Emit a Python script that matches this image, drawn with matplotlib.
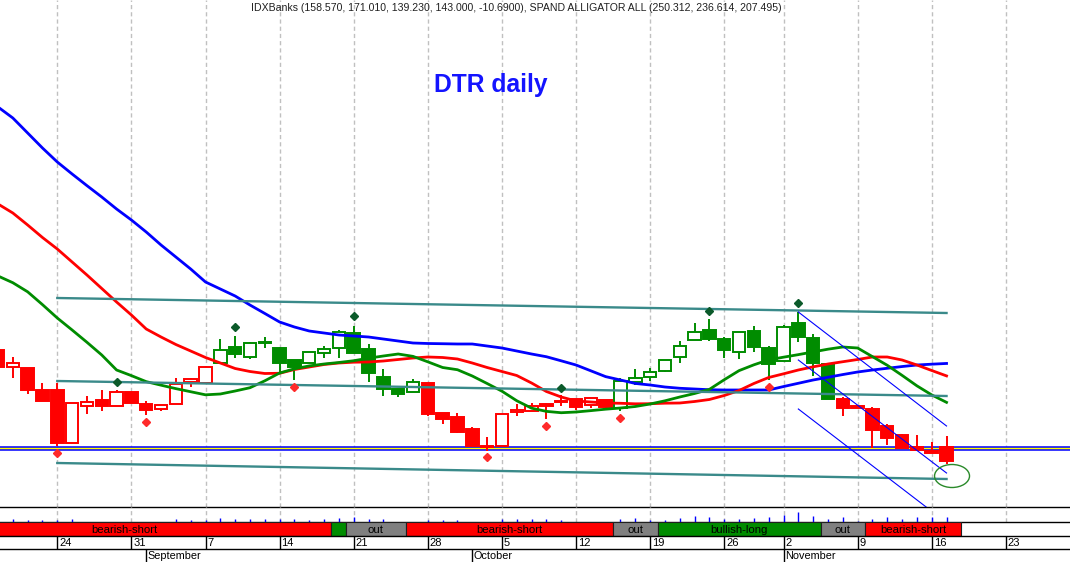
import matplotlib
matplotlib.use("Agg")
import matplotlib.pyplot as plt
from matplotlib.patches import Rectangle, Ellipse
import numpy as np

plt.rcParams['font.family'] = ['Liberation Sans', 'DejaVu Sans']

# ---------------- data ----------------
opens = [265.1, 246.4, 245.3, 221.1, 221.1, 162.8, 203.5, 210.1, 203.5, 218.9,
         205.7, 200.2, 205.7, 229.9, 228.8, 250.8, 268.4, 257.4, 272.8, 267.3,
         254.1, 250.8, 261.8, 267.3, 283.8, 266.2, 235.4, 222.2, 218.9, 228.8,
         195.8, 191.4, 178.2, 159.5, 159.5, 196.9, 198.0, 205.7, 208.45, 211.2,
         204.6, 210.1, 201.3, 229.9, 235.4, 242.0, 257.4, 276.1, 287.1, 277.2,
         262.9, 286.0, 267.3, 253.0, 294.8, 278.3, 249.7, 211.2, 203.5, 200.2,
         181.5, 171.6, 158.4, 154.0, 158.57]
highs = [265.1, 257.4, 245.3, 228.8, 228.8, 206.8, 214.5, 221.1, 221.1, 218.9,
         209.0, 204.6, 234.3, 234.3, 247.5, 277.2, 280.5, 273.9, 279.4, 268.4,
         254.1, 262.9, 269.5, 287.1, 291.5, 271.7, 244.2, 222.2, 233.2, 228.8,
         195.8, 195.8, 180.4, 169.4, 194.7, 205.7, 206.8, 206.8, 215.6, 211.2,
         212.3, 210.1, 234.3, 244.2, 245.3, 254.1, 275.0, 294.8, 299.2, 279.4,
         284.9, 291.5, 269.5, 292.6, 306.9, 282.7, 249.7, 213.4, 203.5, 202.4,
         183.7, 172.7, 171.6, 163.9, 171.01]
lows = [246.4, 234.3, 216.7, 209.0, 159.5, 162.8, 194.7, 198.0, 203.5, 206.8,
        193.6, 198.0, 205.7, 224.4, 228.8, 250.8, 256.3, 255.2, 267.3, 239.8,
        232.1, 250.8, 256.3, 256.3, 261.8, 229.9, 214.5, 213.4, 218.9, 192.5,
        183.7, 173.8, 159.5, 154.0, 159.5, 192.5, 198.0, 189.2, 203.5, 199.1,
        201.3, 200.2, 198.0, 226.6, 231.0, 240.9, 250.8, 276.1, 275.0, 256.3,
        255.2, 262.9, 232.1, 253.0, 273.9, 236.5, 211.2, 192.5, 201.3, 157.3,
        160.6, 157.3, 155.1, 151.8, 139.23]
closes = [246.4, 250.8, 221.1, 209.0, 162.8, 206.8, 207.9, 203.5, 218.9, 206.8,
          199.1, 204.6, 227.7, 233.2, 246.4, 265.1, 260.7, 272.8, 273.9, 250.8,
          246.4, 262.9, 266.2, 284.9, 261.8, 239.8, 222.2, 216.7, 229.9, 194.7,
          189.2, 174.9, 159.5, 158.4, 194.7, 199.1, 203.5, 203.5, 209.0, 202.4,
          212.3, 202.4, 231.0, 234.3, 240.9, 254.1, 269.5, 284.9, 277.2, 265.1,
          284.9, 268.4, 249.7, 290.4, 279.4, 250.8, 211.2, 201.3, 201.3, 177.1,
          168.3, 157.3, 155.1, 151.8, 143.0]
candle_colors = "r" * 15 + "g" * 14 + "r" * 13 + "g" * 15 + "r" * 8

jaw = [532.4, 520.3, 503.8, 487.3, 471.9, 458.7, 445.9, 433.4, 420.2, 408.1,
       394.9, 380.6, 367.4, 354.2, 339.9, 332.2, 324.5, 314.6, 305.3, 295.9,
       290.4, 286.0, 283.8, 281.6, 280.5, 279.4, 277.2, 275.0, 272.8, 272.25,
       272.0, 271.7, 271.7, 269.5, 267.3, 264.0, 260.7, 257.7, 253.2, 248.6,
       242.2, 235.8, 232.1, 228.3, 226.6, 224.4, 223.0, 222.2, 221.4, 221.1,
       221.1, 221.1, 221.1, 224.9, 228.5, 232.1, 235.1, 238.1, 240.9, 243.1,
       245.0, 246.9, 248.6, 249.5, 250.3]
teeth = [425.7, 415.8, 402.6, 388.85, 376.2, 361.9, 347.6, 332.75, 317.9, 303.6,
         288.2, 279.4, 271.15, 264.0, 256.85, 250.8, 244.75, 241.45, 239.25, 239.5,
         243.65, 246.4, 249.15, 250.8, 251.7, 251.9, 253.0, 254.65, 256.3, 257.4,
         256.85, 255.2, 250.8, 245.85, 241.45, 237.05, 228.8, 219.45, 213.4, 209.0,
         207.9, 206.8, 206.5, 205.9, 206.0, 206.6, 206.8, 208.45, 210.65, 215.05,
         220.55, 228.25, 234.85, 238.9, 243.1, 246.6, 249.7, 252.2, 254.65, 257.4,
         257.4, 254.1, 248.6, 242.55, 236.6]
lips = [346.5, 339.1, 329.1, 315.0, 300.3, 287.1, 273.6, 259.6, 243.1, 236.9,
        230.3, 226.4, 222.6, 219.2, 215.8, 216.7, 220.0, 223.6, 231.2, 239.8,
        244.4, 247.6, 249.7, 251.35, 253.3, 256.1, 258.5, 260.7, 258.1, 252.1,
        245.85, 243.4, 236.5, 228.25, 219.8, 209.3, 201.1, 197.6, 196.1, 196.9,
        198.4, 200.0, 201.3, 202.95, 205.7, 209.2, 213.4, 217.25, 221.8, 232.4,
        242.4, 248.8, 254.3, 257.2, 260.0, 263.0, 266.0, 268.4, 267.3, 257.8,
        248.3, 237.2, 225.7, 215.7, 207.5]

volume = [0, 3, 2, 2, 2, 3, 0, 0, 0, 0, 0, 0, 3, 2, 2, 4, 3, 3, 3,
          3, 3, 2, 3, 4, 5, 3, 3, 0, 0,
          2, 2, 2, 0, 0, 3, 3, 3, 3, 2,
          0, 0, 0, 3, 4, 2, 2, 4, 6, 5,
          3, 3, 4, 5, 7, 10, 6, 3, 5, 1,
          3, 5, 3, 5, 5, 5]

# trend channel (start bar, end bar) and price levels
channel_bars = [4, 64]
channel_upper = [322.3, 305.8]
channel_middle = [231.0, 214.5]
channel_lower = [140.8, 123.2]

# falling channel
down_bars = [54, 64]
down_line1 = [306.9, 181.5]
down_line2 = [254.1, 129.8]
down_bars3 = [54, 63]
down_line3 = [200.2, 87.7]

support_levels = [158.8, 155.1]

up_fractal_idx = [8, 16, 24, 38, 48, 54]
up_fractal_val = [229.9, 290.4, 302.5, 223.3, 308.0, 316.8]
down_fractal_idx = [4, 10, 20, 33, 37, 42, 52]
down_fractal_val = [151.8, 185.9, 224.4, 147.4, 181.5, 190.3, 224.4]

ellipse_center = (64.37, 126.5)

band_edges = [-5.5, 22.5, 23.5, 27.5, 41.5, 44.5, 55.5, 58.5, 65.0]
band_states = ["bearish-short", "bullish-long", "out", "bearish-short",
               "out", "bullish-long", "out", "bearish-short"]

date_idx = [4, 9, 14, 19, 24, 29, 34, 39, 44, 49, 53, 58, 63, 68]
date_labels = ['24', '31', '7', '14', '21', '28', '5', '12', '19', '26',
               '2', '9', '16', '23']
month_idx = [10, 32, 53]
month_labels = ['September', 'October', 'November']

title_text = ("IDXBanks (158.570, 171.010, 139.230, 143.000, -10.6900), "
              "SPAND ALLIGATOR ALL (250.312, 236.614, 207.495)")

# ---------------- styling ----------------
RED = '#ff0000'
GREEN = '#008c00'
BLUE = '#0000ff'
TEAL = '#3a8a8a'
GRAY = '#808080'
GRID = '#c0c0c0'

W, H = 1070, 562
fig = plt.figure(figsize=(W / 100, H / 100), dpi=100)


def rect(top, bot):
    return [0, (H - bot) / H, 1, (bot - top) / H]


XLIM = (0.134, 72.33)
ax = fig.add_axes(rect(0, 507.3))
axv = fig.add_axes(rect(507.3, 522.3))
axb = fig.add_axes(rect(522.3, 536))
axd = fig.add_axes(rect(536, 549.3))
axm = fig.add_axes(rect(549.3, 562))

for a in (ax, axv, axb, axd, axm):
    a.set_xlim(*XLIM)
    a.set_xticks([])
    a.set_yticks([])
    for s in ('left', 'right', 'top'):
        a.spines[s].set_visible(False)
    a.spines['bottom'].set_color('black')
    a.spines['bottom'].set_linewidth(1.0)
    a.patch.set_alpha(0)
axm.spines['bottom'].set_visible(False)

ax.set_ylim(92.07, 650.1)

# grid
for a in (ax, axv):
    for d in date_idx:
        a.axvline(d, color=GRID, lw=1.0, ls=(0, (3, 2.2)), zorder=0)

idx = np.arange(len(closes))

# support band
ax.axhspan(support_levels[1], support_levels[0], color='#ffff00', zorder=1, lw=0)
for lvl in support_levels:
    ax.axhline(lvl, color=BLUE, lw=1.1, zorder=1.5)

# candles
for i in range(len(closes)):
    col = RED if candle_colors[i] == 'r' else GREEN
    o, h, l, c = opens[i], highs[i], lows[i], closes[i]
    ax.vlines(i, l, h, color=col, lw=1.4, zorder=3)
    bottom = min(o, c)
    height = max(abs(c - o), 0.4)
    filled = c < o
    ax.add_patch(Rectangle((i - 0.42, bottom), 0.84, height,
                           facecolor=col if filled else 'white',
                           edgecolor=col, lw=1.4, zorder=4))

# alligator
ax.plot(idx, jaw, color=BLUE, lw=2.0, zorder=5)
ax.plot(idx, teeth, color=RED, lw=2.0, zorder=5)
ax.plot(idx, lips, color=GREEN, lw=2.0, zorder=5)

# trend channel
for vals in (channel_upper, channel_middle, channel_lower):
    ax.plot(channel_bars, vals, color=TEAL, lw=1.7, zorder=5)

# falling channel
ax.plot(down_bars, down_line1, color=BLUE, lw=0.8, zorder=6)
ax.plot(down_bars, down_line2, color=BLUE, lw=0.8, zorder=6)
ax.plot(down_bars3, down_line3, color=BLUE, lw=0.8, zorder=6)

# fractals
ax.plot(up_fractal_idx, up_fractal_val, ls='none', marker='D', ms=4,
        color='#0b5a2a', zorder=7)
ax.plot(down_fractal_idx, down_fractal_val, ls='none', marker='D', ms=4,
        color='#ff2a2a', zorder=7)

ax.add_patch(Ellipse(ellipse_center, 2.36, 25.3, fill=False,
                     edgecolor='#2a8a2a', lw=1.0, zorder=7))

# volume strip
axv.set_ylim(0, 15)
axv.vlines(idx, 0, volume, color=BLUE, lw=1.0, zorder=3)

# signal band
axb.set_ylim(0, 1)
band_colors = {"bearish-short": RED, "bullish-long": GREEN, "out": GRAY}
for k, state in enumerate(band_states):
    x0, x1 = band_edges[k], band_edges[k + 1]
    axb.add_patch(Rectangle((x0, 0), x1 - x0, 1, facecolor=band_colors[state],
                            edgecolor='#202020', lw=0.8, zorder=2))
    if x1 - x0 > 2:
        axb.text((x0 + x1) / 2, 0.45, state, ha='center', va='center',
                 fontsize=8.2, color='black', zorder=3)

# dates
axd.set_ylim(0, 1)
for d, lab in zip(date_idx, date_labels):
    axd.axvline(d, color='black', lw=1.0)
    axd.text(d + 0.13, 0.45, lab, ha='left', va='center', fontsize=8)

axm.set_ylim(0, 1)
for d, lab in zip(month_idx, month_labels):
    axm.axvline(d, color='black', lw=1.0)
    axm.text(d + 0.1, 0.45, lab, ha='left', va='center', fontsize=7.8)

# titles
fig.text(516 / W, 1 - 8 / H, title_text, ha='center', va='center',
         fontsize=7.55, color='#202020')
fig.text(491 / W, 1 - 85 / H, 'DTR daily', ha='center', va='center',
         fontsize=17.7, fontweight='bold', color='#1414ff')

fig.savefig('out.png', dpi=100)
